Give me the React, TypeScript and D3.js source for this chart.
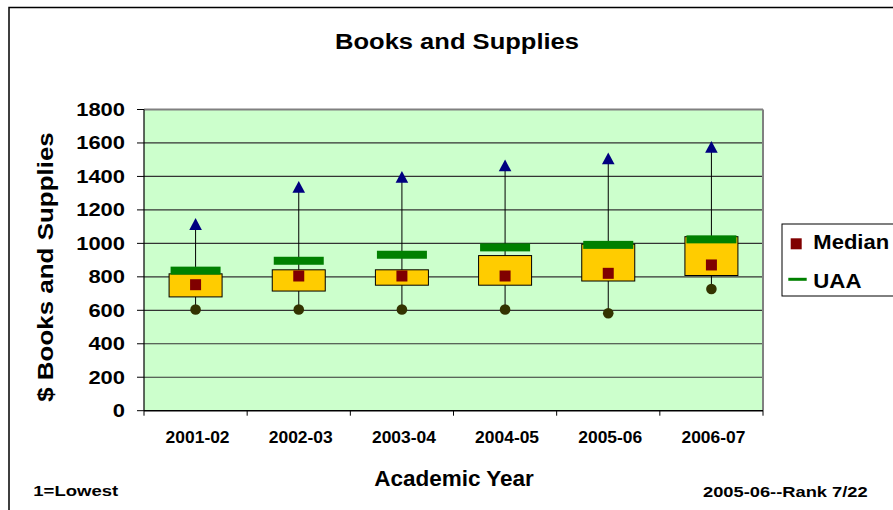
import React from "react";
import * as d3 from "d3";

const categories = ["2001-02", "2002-03", "2003-04", "2004-05", "2005-06", "2006-07"];
const boxLow = [680, 715, 750, 750, 775, 808];
const boxHigh = [818, 842, 842, 927, 995, 1040];
const medianVals = [753, 805, 805, 805, 821, 871];
const maxVals = [1115, 1337, 1397, 1465, 1507, 1576];
const minVals = [605, 605, 605, 605, 582, 727];
const uaaVals = [837, 896, 932, 976, 991, 1024];
const yTickValues = [0, 200, 400, 600, 800, 1000, 1200, 1400, 1600, 1800];

const FONT = "'Liberation Sans', Arial, sans-serif";

function SText(props: {
  x: number; y: number; size: number; sx?: number; anchor?: string; rotate?: number; children: React.ReactNode;
}) {
  const { x, y, size, sx = 1, anchor = "start", rotate = 0, children } = props;
  return (
    <text
      transform={`translate(${x},${y}) rotate(${rotate}) scale(${sx},1)`}
      textAnchor={anchor}
      fontFamily={FONT}
      fontWeight="bold"
      fontSize={size}
      fill="#000"
    >
      {children}
    </text>
  );
}

export default function App() {
  const W = 893, H = 510;
  const left = 144, right = 763, top = 109.5, bottom = 410.7;
  const x = d3.scaleBand<string>().domain(categories).range([left, right]).padding(0);
  const y = d3.scaleLinear().domain([0, 1800]).range([bottom, top]);
  const bw = x.bandwidth();
  const boxW = 53;
  const uaaW = 50;
  const boundaries = d3.range(categories.length + 1).map((i) => left + i * bw);

  return (
    <svg width={W} height={H} style={{ position: "absolute", left: 0, top: 0, background: "#fff" }}>
      <rect x={0} y={0} width={W} height={H} fill="#fff" />
      {/* outer border */}
      <rect x={9} y={7.5} width={W + 20} height={H + 20} fill="none" stroke="#000" strokeWidth={1.5} />

      {/* title */}
      <SText x={457} y={49} size={22.3} sx={1.145} anchor="middle">Books and Supplies</SText>

      {/* plot area */}
      <rect x={left} y={top} width={right - left} height={bottom - top} fill="#CCFFCC" />
      {yTickValues.filter((v) => v > 0).map((v) => (
        <line key={v} x1={left} x2={right} y1={y(v)} y2={y(v)} stroke="#333" strokeWidth={1.2} />
      ))}
      <line x1={left} x2={right} y1={top} y2={top} stroke="#808080" strokeWidth={2} />
      <line x1={right} x2={right} y1={top} y2={bottom} stroke="#808080" strokeWidth={2} />

      {/* y axis */}
      <line x1={left} x2={left} y1={top} y2={bottom} stroke="#000" strokeWidth={1.2} />
      {yTickValues.map((v) => (
        <g key={v}>
          <line x1={left - 7} x2={left} y1={y(v)} y2={y(v)} stroke="#000" strokeWidth={1} />
          <SText x={125} y={y(v) + 6.5} size={18} sx={1.22} anchor="end">{String(v)}</SText>
        </g>
      ))}

      {/* x axis */}
      <line x1={left} x2={right} y1={bottom} y2={bottom} stroke="#000" strokeWidth={1.5} />
      {boundaries.map((bx, i) => (
        <line key={i} x1={bx} x2={bx} y1={bottom} y2={bottom + 5} stroke="#000" strokeWidth={1} />
      ))}
      {categories.map((c) => (
        <SText key={c} x={(x(c) as number) + bw / 2 + 2} y={443} size={16} sx={1.09} anchor="middle">{c}</SText>
      ))}

      {/* boxes */}
      {categories.map((c, i) => {
        const cx = (x(c) as number) + bw / 2;
        return (
          <g key={c}>
            <line x1={cx} x2={cx} y1={y(minVals[i])} y2={y(maxVals[i])} stroke="#000" strokeWidth={1} />
            <rect
              x={cx - boxW / 2}
              y={y(boxHigh[i])}
              width={boxW}
              height={y(boxLow[i]) - y(boxHigh[i])}
              fill="#FFCC00"
              stroke="#000"
              strokeWidth={1}
            />
            <rect x={cx - uaaW / 2} y={y(uaaVals[i]) - 4} width={uaaW} height={8} fill="#008000" />
            <rect x={cx - 5.5} y={y(medianVals[i]) - 5.5} width={11} height={11} fill="#800000" />
            <path
              d={`M${cx},${y(maxVals[i]) - 6} L${cx + 6.3},${y(maxVals[i]) + 5.8} L${cx - 6.3},${y(maxVals[i]) + 5.8} Z`}
              fill="#000080"
            />
            <circle cx={cx} cy={y(minVals[i])} r={5.3} fill="#333300" />
          </g>
        );
      })}

      {/* y title */}
      <SText x={53} y={267} size={22} sx={1.18} anchor="middle" rotate={-90}>$ Books and Supplies</SText>

      {/* x title */}
      <SText x={454} y={486} size={22.5} sx={1.0} anchor="middle">Academic Year</SText>

      {/* footnotes */}
      <SText x={33.3} y={496} size={15} sx={1.235}>1=Lowest</SText>
      <SText x={703} y={497.3} size={15} sx={1.22}>2005-06--Rank 7/22</SText>

      {/* legend */}
      <rect x={782} y={224} width={130} height={72} fill="#fff" stroke="#000" strokeWidth={1} />
      <rect x={790.7} y={238.3} width={11} height={11} fill="#800000" />
      <SText x={813.3} y={249.3} size={19.5} sx={1.13}>Median</SText>
      <line x1={788.3} x2={806.7} y1={279.3} y2={279.3} stroke="#008000" strokeWidth={3} />
      <SText x={813.3} y={288.3} size={19.5} sx={1.14}>UAA</SText>
    </svg>
  );
}
